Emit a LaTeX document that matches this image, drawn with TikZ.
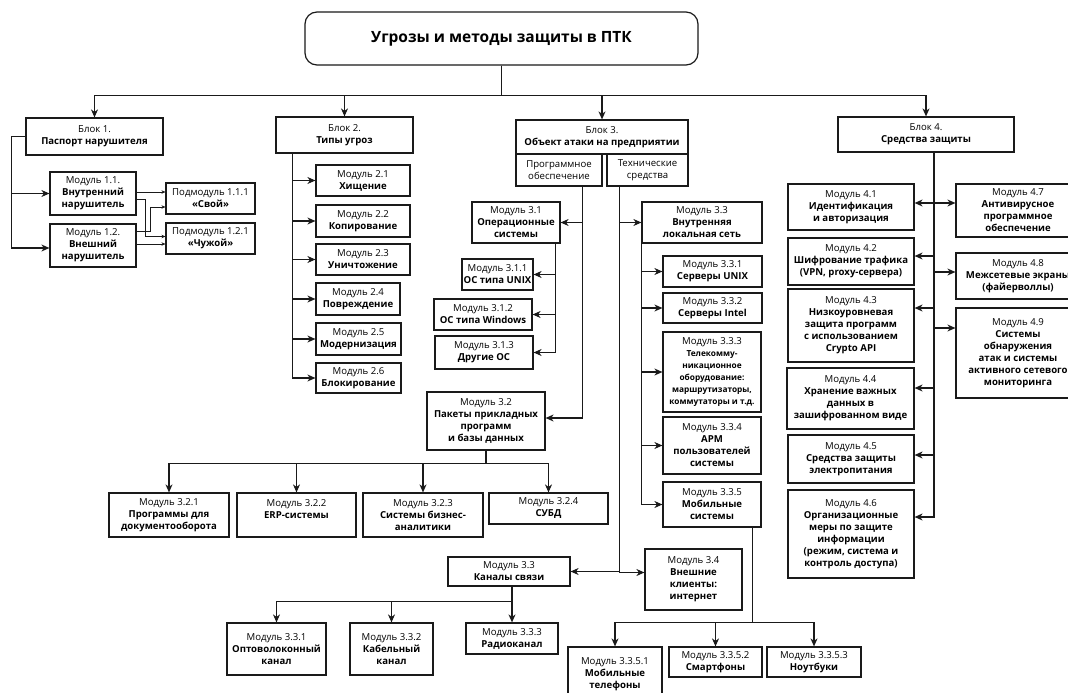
\documentclass[tikz,border=0pt]{standalone}
\usepackage{fontspec}
\setmainfont{Open Sans}
\usepackage{tikz}
\usetikzlibrary{arrows.meta,positioning,calc}
\definecolor{Ink}{HTML}{1A1A1A}

\begin{document}
\begin{tikzpicture}[x=1pt,y=-1pt,
    box/.style={draw=Ink,line width=1.2pt,align=center,inner sep=1pt,
      font=\fontsize{9.6}{12}\selectfont},
    arr/.style={draw=Ink,line width=1.1pt,-{Stealth[length=8pt,width=7pt,inset=2.5pt]}},
    tarr/.style={draw=Ink,line width=0.6pt,-{Stealth[length=4pt,width=3.5pt]}}
  ]
  \path[use as bounding box,fill=white] (0,0) rectangle (1068,693);
  \node[box,rounded corners=12pt,minimum width=393,minimum height=53,
    font=\fontsize{15.5}{18}\selectfont\bfseries] (title) at (501.5,38.5)
    {Угрозы и методы защиты в ПТК};
  % blocks
  \node[box,minimum width=137,minimum height=37] (b1) at (94.5,136.5) {Блок 1.\\\textbf{Паспорт нарушителя}};
  \node[box,minimum width=137,minimum height=36] (b2) at (344.5,135) {Блок 2.\\\textbf{Типы угроз}};
  \node[box,minimum width=172,minimum height=34] (b3) at (602,137) {Блок 3.\\\textbf{Объект атаки на предприятии}};
  \node[box,minimum width=176,minimum height=35] (b4) at (926,134.5) {Блок 4.\\\textbf{Средства защиты}};
  \foreach \b in {b1,b2,b3,b4}
    \draw[arr] (title.south) -- ++(0,30) -| (\b.north);
  % block 1
  \node[box,minimum width=86,minimum height=43] (m11) at (93,193.5) {Модуль 1.1.\\\textbf{Внутренний}\\\textbf{нарушитель}};
  \node[box,minimum width=86,minimum height=43] (m12) at (93,245.5) {Модуль 1.2.\\\textbf{Внешний}\\\textbf{нарушитель}};
  \node[box,minimum width=89,minimum height=31] (p111) at (210.5,198.5) {Подмодуль 1.1.1\\\textbf{«Свой»}};
  \node[box,minimum width=89,minimum height=31] (p121) at (210.5,238.5) {Подмодуль 1.2.1\\\textbf{«Чужой»}};
  \draw[arr] (b1.west) -- ++(-14,0) |- (m11.west);
  \draw[arr] (b1.west) -- ++(-14,0) |- ([yshift=-2.5]m12.west);
  \draw[tarr] ([yshift=1.5]m11.east) -- ([yshift=1.5]m11.east -| p111.west);
  \draw[tarr] ([yshift=-6]m11.east) -- ++(9,0) |- ([yshift=2]p121.west);
  \draw[tarr] ([yshift=14]m12.east) -- ++(14,0) |- ([yshift=-8.5]p111.west);
  \draw[tarr] ([yshift=1.5]m12.east) -- ([yshift=1.5]m12.east -| p121.west);
  % block 2
  \node[box,minimum width=94,minimum height=31] (m21) at (363,180.5) {Модуль 2.1\\\textbf{Хищение}};
  \node[box,minimum width=94,minimum height=32] (m22) at (363,221) {Модуль 2.2\\\textbf{Копирование}};
  \node[box,minimum width=94,minimum height=31] (m23) at (363,259.5) {Модуль 2.3\\\textbf{Уничтожение}};
  \node[box,minimum width=84,minimum height=32] (m24) at (358,299) {Модуль 2.4\\\textbf{Повреждение}};
  \node[box,minimum width=85,minimum height=32] (m25) at (358.5,339) {Модуль 2.5\\\textbf{Модернизация}};
  \node[box,minimum width=85,minimum height=30] (m26) at (358.5,378) {Модуль 2.6\\\textbf{Блокирование}};
  \foreach \n in {1,...,6}
    \draw[arr] ([xshift=17]b2.south west) |- (m2\n.west);
  % block 3
  \node[box,minimum width=86,minimum height=32] (sw) at (559,170) {Программное\\обеспечение};
  \node[box,minimum width=81,minimum height=32] (hw) at (647.5,170) {Технические\\средства};
  \node[box,minimum width=88,minimum height=41] (m31) at (516,222.5) {Модуль 3.1\\\textbf{Операционные}\\\textbf{системы}};
  \node[box,minimum width=71,minimum height=31] (m311) at (497.5,274.5) {Модуль 3.1.1\\\textbf{ОС типа UNIX}};
  \node[box,minimum width=98,minimum height=31] (m312) at (483,314.5) {Модуль 3.1.2\\\textbf{ОС типа Windows}};
  \node[box,minimum width=98,minimum height=33] (m313) at (484,352.5) {Модуль 3.1.3\\\textbf{Другие ОС}};
  \node[box,minimum width=118,minimum height=58] (m32) at (486,421) {Модуль 3.2\\\textbf{Пакеты прикладных}\\\textbf{программ}\\\textbf{и базы данных}};
  \node[box,minimum width=120,minimum height=44] (m321) at (169,515) {Модуль 3.2.1\\\textbf{Программы для}\\\textbf{документооборота}};
  \node[box,minimum width=119,minimum height=44] (m322) at (296.5,515) {Модуль 3.2.2\\\textbf{ERP-системы}\\\phantom{Х}};
  \node[box,minimum width=120,minimum height=44] (m323) at (423,515) {Модуль 3.2.3\\\textbf{Системы бизнес-}\\\textbf{аналитики}};
  \node[box,minimum width=119,minimum height=31] (m324) at (548.5,508.5) {Модуль 3.2.4\\\textbf{СУБД}};
  \draw[arr] ([xshift=-20]sw.south east) |- (m31.east);
  \draw[arr] ([xshift=-20]sw.south east) |- ([yshift=3]m32.east);
  \foreach \n in {311,312,313}
    \draw[arr] ([xshift=-5]m31.south east) |- (m\n.east);
  \foreach \n in {321,...,324}
    \draw[arr] (m32.south) -- ++(0,13) -| (m\n.north);
  \node[box,minimum width=120,minimum height=41] (m33l) at (702,222.5) {Модуль 3.3\\\textbf{Внутренняя}\\\textbf{локальная сеть}};
  \node[box,minimum width=99,minimum height=31] (m331) at (712.5,271.5) {Модуль 3.3.1\\\textbf{Серверы UNIX}};
  \node[box,minimum width=99,minimum height=30] (m332) at (712.5,308) {Модуль 3.3.2\\\textbf{Серверы Intel}};
  \node[box,minimum width=98,minimum height=80] (m333) at (712,372) {Модуль 3.3.3\\{\fontsize{8.3}{12}\selectfont\bfseries Телекомму-}\\{\fontsize{8.3}{12}\selectfont\bfseries никационное}\\{\fontsize{8.3}{12}\selectfont\bfseries оборудование:}\\{\fontsize{8.3}{12}\selectfont\bfseries маршрутизаторы,}\\{\fontsize{8.3}{12}\selectfont\bfseries коммутаторы и т.д.}};
  \node[box,minimum width=98,minimum height=57] (m334) at (712,445.5) {Модуль 3.3.4\\\textbf{АРМ}\\\textbf{пользователей}\\\textbf{системы}};
  \node[box,minimum width=98,minimum height=45] (m335) at (712,504.5) {Модуль 3.3.5\\\textbf{Мобильные}\\\textbf{системы}};
  \node[box,minimum width=94,minimum height=55] (m3351) at (615,674.5) {Модуль 3.3.5.1\\\textbf{Мобильные}\\\textbf{телефоны}};
  \node[box,minimum width=93,minimum height=30] (m3352) at (715.5,662) {Модуль 3.3.5.2\\\textbf{Смартфоны}};
  \node[box,minimum width=94,minimum height=30] (m3353) at (814,662) {Модуль 3.3.5.3\\\textbf{Ноутбуки}};
  \node[box,minimum width=122,minimum height=29] (m33k) at (509,571.5) {Модуль 3.3\\\textbf{Каналы связи}};
  \node[box,minimum width=97,minimum height=61] (m34) at (693.5,579.5) {Модуль 3.4\\\textbf{Внешние}\\\textbf{клиенты:}\\\textbf{интернет}};
  \node[box,minimum width=99,minimum height=52] (m3331) at (276.5,649) {Модуль 3.3.1\\\textbf{Оптоволоконный}\\\textbf{канал}};
  \node[box,minimum width=83,minimum height=52] (m3332) at (391.5,649) {Модуль 3.3.2\\\textbf{Кабельный}\\\textbf{канал}};
  \node[box,minimum width=92,minimum height=31] (m3333) at (512,638.5) {Модуль 3.3.3\\\textbf{Радиоканал}};
  \draw[arr] ([xshift=13]hw.south west) |- (m33l.west);
  \draw[arr] ([xshift=13]hw.south west) |- (m33k.east);
  \draw[arr] ([xshift=13]hw.south west) |- ([yshift=7]m34.west);
  \foreach \n in {331,...,335}
    \draw[arr] (m33l.south west) |- (m\n.west);
  \foreach \n in {3351,3352,3353}
    \draw[arr] ([xshift=-9]m335.south east) -- ++(0,95) -| (m\n.north);
  \foreach \n in {3331,3332,3333}
    \draw[arr] (m33k.south -| m3333.north) -- ++(0,15) -| (m\n.north);
  % block 4
  \node[box,minimum width=126,minimum height=46] (m41) at (851,207) {Модуль 4.1\\\textbf{Идентификация}\\\textbf{и авторизация}};
  \node[box,minimum width=126,minimum height=47] (m42) at (851,261.5) {Модуль 4.2\\\textbf{Шифрование трафика}\\\textbf{(VPN, proxy-сервера)}};
  \node[box,minimum width=126,minimum height=73] (m43) at (851,325.5) {Модуль 4.3\\\textbf{Низкоуровневая}\\\textbf{защита программ}\\\textbf{с использованием}\\\textbf{Crypto API}};
  \node[box,minimum width=127,minimum height=61] (m44) at (850.5,398.5) {Модуль 4.4\\\textbf{Хранение важных}\\\textbf{данных в}\\\textbf{зашифрованном виде}};
  \node[box,minimum width=126,minimum height=48] (m45) at (851,459) {Модуль 4.5\\\textbf{Средства защиты}\\\textbf{электропитания}};
  \node[box,minimum width=126,minimum height=88] (m46) at (851,534) {Модуль 4.6\\\textbf{Организационные}\\\textbf{меры по защите}\\\textbf{информации}\\\textbf{(режим, система и}\\\textbf{контроль доступа)}};
  \node[box,minimum width=124,minimum height=53] (m47) at (1018,210.5) {Модуль 4.7\\\textbf{Антивирусное}\\\textbf{программное}\\\textbf{обеспечение}};
  \node[box,minimum width=124,minimum height=46] (m48) at (1018,276) {Модуль 4.8\\\textbf{Межсетевые экраны}\\\textbf{(файерволлы)}};
  \node[box,minimum width=124,minimum height=90] (m49) at (1018,353) {Модуль 4.9\\\textbf{Системы}\\\textbf{обнаружения}\\\textbf{атак и системы}\\\textbf{активного сетевого}\\\textbf{мониторинга}};
  \foreach \n/\s in {41/4,42/5.5,43/17.5,44/10.5,45/4,46/17}
    \draw[arr] ([xshift=8]b4.south) |- ([yshift=\s]m\n.east);
  \foreach \n/\s in {47/7.5,48/4,49/25}
    \draw[arr] ([xshift=8]b4.south) |- ([yshift=\s]m\n.west);
\end{tikzpicture}
\end{document}
